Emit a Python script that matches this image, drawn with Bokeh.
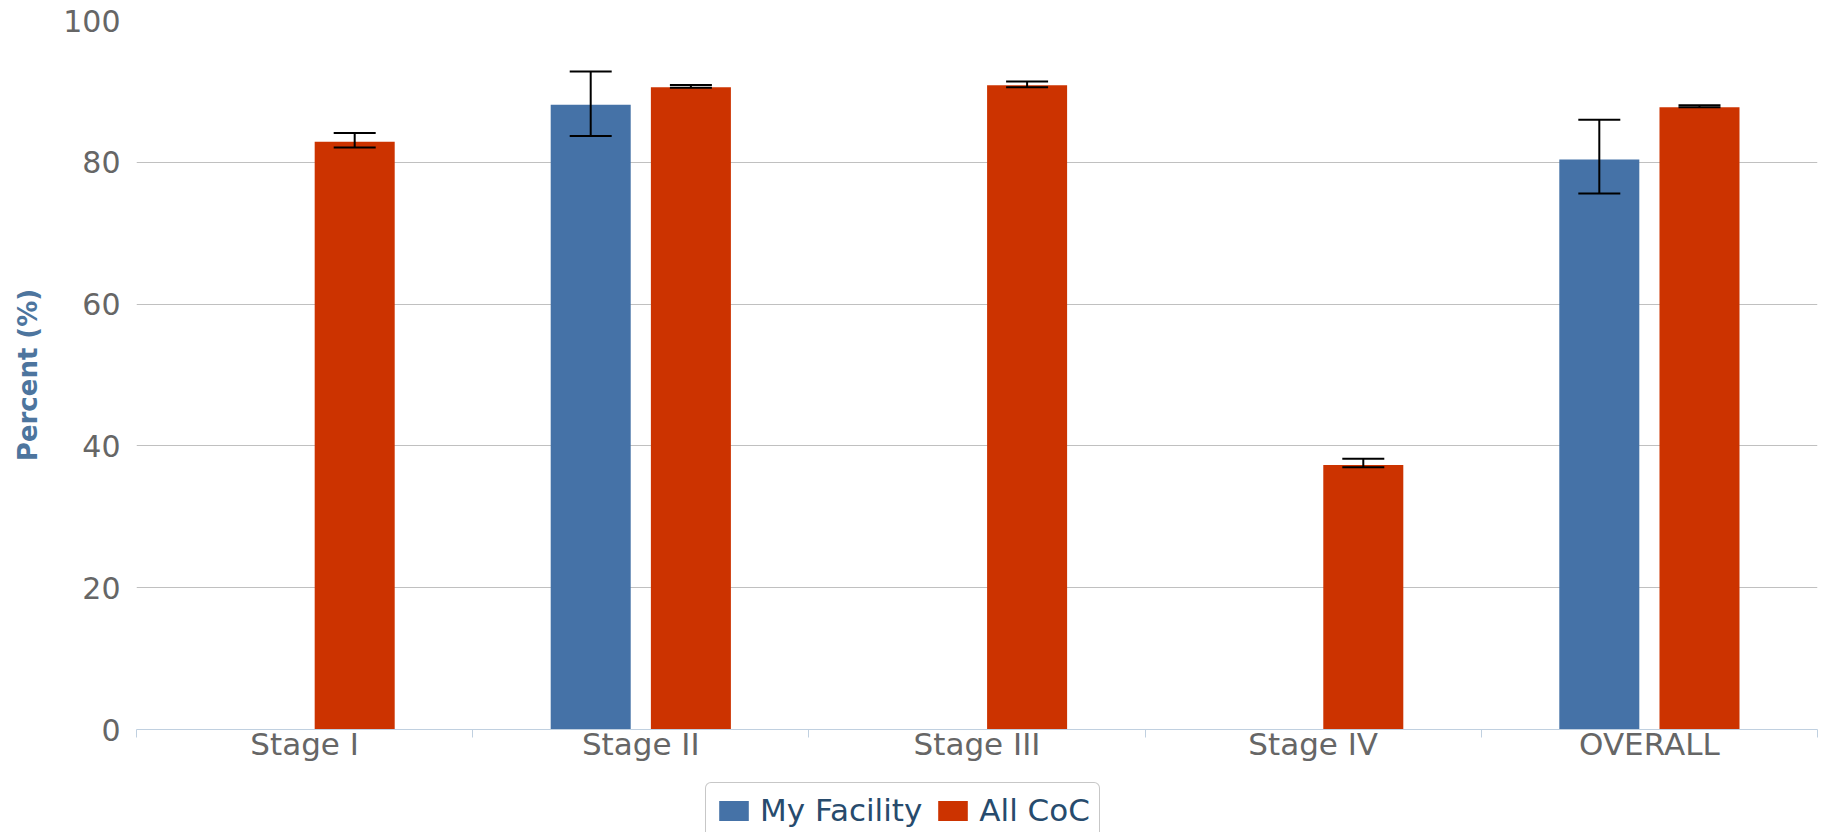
import numpy as np
from bokeh.plotting import figure
from bokeh.layouts import column
from bokeh.models import (ColumnDataSource, FixedTicker, Range1d, Whisker, TeeHead,
                          Legend, LegendItem)
from bokeh.transform import dodge
from bokeh.embed import file_html
from bokeh.resources import INLINE

# ---- data ----
categories = ["Stage I", "Stage II", "Stage III", "Stage IV", "OVERALL"]
my_facility = [None, 88.1, None, None, 80.4]
my_facility_low = [None, 83.7, None, None, 75.6]
my_facility_high = [None, 92.8, None, None, 86.0]
all_coc = [82.9, 90.6, 90.85, 37.3, 87.75]
all_coc_low = [82.1, 90.5, 90.6, 37.0, 87.75]
all_coc_high = [84.15, 90.9, 91.4, 38.2, 88.05]
y_ticks = [0, 20, 40, 60, 80, 100]
series_names = ["My Facility", "All CoC"]

BLUE = "#4572A7"
RED = "#CC3300"

centers = [i + 0.5 for i in range(len(categories))]
mf_idx = [i for i, v in enumerate(my_facility) if v is not None]
src_mf = ColumnDataSource(dict(
    x=[centers[i] for i in mf_idx],
    top=[my_facility[i] for i in mf_idx],
    lower=[my_facility_low[i] for i in mf_idx],
    upper=[my_facility_high[i] for i in mf_idx],
))
src_coc = ColumnDataSource(dict(x=centers, top=all_coc, lower=all_coc_low, upper=all_coc_high))

W = 1818
H1 = 774
H2 = 58

p = figure(width=W, height=H1, output_backend="svg", toolbar_location=None,
           x_range=Range1d(0, len(categories)), y_range=Range1d(0, 100),
           min_border_left=136, min_border_right=1, min_border_top=20,
           min_border_bottom=H1 - 729)
p.outline_line_color = None
p.background_fill_color = "white"
p.border_fill_color = "white"

OFF = 0.149
BW = 0.238
r_mf = p.vbar(x=dodge("x", -OFF), top="top", bottom=0, width=BW, source=src_mf,
              fill_color=BLUE, line_color=None)
r_coc = p.vbar(x=dodge("x", OFF), top="top", bottom=0, width=BW, source=src_coc,
               fill_color=RED, line_color=None)

for src, off in ((src_mf, -OFF), (src_coc, OFF)):
    w = Whisker(base=dodge("x", off), lower="lower", upper="upper", source=src,
                dimension="height", line_color="black", line_width=2,
                upper_head=TeeHead(size=42, line_color="black", line_width=2),
                lower_head=TeeHead(size=42, line_color="black", line_width=2),
                level="annotation")
    p.add_layout(w)

# x axis
xa = p.xaxis[0]
xa.ticker = FixedTicker(ticks=centers, minor_ticks=list(range(len(categories) + 1)))
xa.major_label_overrides = {c: cat for c, cat in zip(centers, categories)}
xa.major_tick_line_color = None
xa.major_tick_out = 0
xa.major_tick_in = 0
xa.minor_tick_line_color = "#C0D0E0"
xa.minor_tick_out = 8
xa.minor_tick_in = 0
xa.axis_line_color = "#C0D0E0"
xa.axis_line_width = 1
xa.major_label_text_font = "DejaVu Sans"
xa.major_label_text_font_size = "31px"
xa.major_label_text_color = "#666666"
xa.major_label_standoff = -12

# y axis
ya = p.yaxis[0]
ya.ticker = FixedTicker(ticks=y_ticks)
ya.axis_line_color = None
ya.major_tick_line_color = None
ya.minor_tick_line_color = None
ya.major_tick_out = 0
ya.major_label_standoff = 16
ya.major_label_text_font = "DejaVu Sans"
ya.major_label_text_font_size = "30px"
ya.major_label_text_color = "#666666"
ya.axis_label = "Percent (%)"
ya.axis_label_text_font = "DejaVu Sans"
ya.axis_label_text_font_size = "26px"
ya.axis_label_text_font_style = "bold"
ya.axis_label_text_color = "#4D759E"
ya.axis_label_standoff = 17

p.xgrid.grid_line_color = None
p.ygrid.grid_line_color = "#C0C0C0"
p.ygrid.grid_line_width = 1

# ---- legend strip (second figure, cut off at the bottom like the reference) ----
p2 = figure(width=W, height=H2, output_backend="svg", toolbar_location=None,
            x_range=Range1d(0, 1), y_range=Range1d(0, 1),
            x_axis_type=None, y_axis_type=None,
            min_border_left=0, min_border_right=0, min_border_top=0, min_border_bottom=0)
p2.outline_line_color = None
p2.grid.visible = False
p2.border_fill_color = "white"
# legend-only renderers (zero-height bars, nothing drawn in the strip)
l_mf = p2.vbar(x=[-10], top=[0], bottom=[0], width=0.1, fill_color=BLUE, line_color=None)
l_coc = p2.vbar(x=[-10], top=[0], bottom=[0], width=0.1, fill_color=RED, line_color=None)

legend = Legend(items=[LegendItem(label=series_names[0], renderers=[l_mf]),
                       LegendItem(label=series_names[1], renderers=[l_coc])],
                location=(569, -6), orientation="horizontal",
                glyph_width=37, glyph_height=25, label_standoff=8, spacing=12,
                padding=9, margin=0,
                label_text_font="DejaVu Sans", label_text_font_size="31px",
                label_text_color="#274B6D",
                border_line_color="#909090", border_line_width=1,
                background_fill_color="white", background_fill_alpha=1)
if "border_radius" in Legend.properties():
    legend.border_radius = 6
p2.add_layout(legend, "center")

layout = column(p, p2, spacing=0)
open("out.html", "w").write(file_html(layout, INLINE))
